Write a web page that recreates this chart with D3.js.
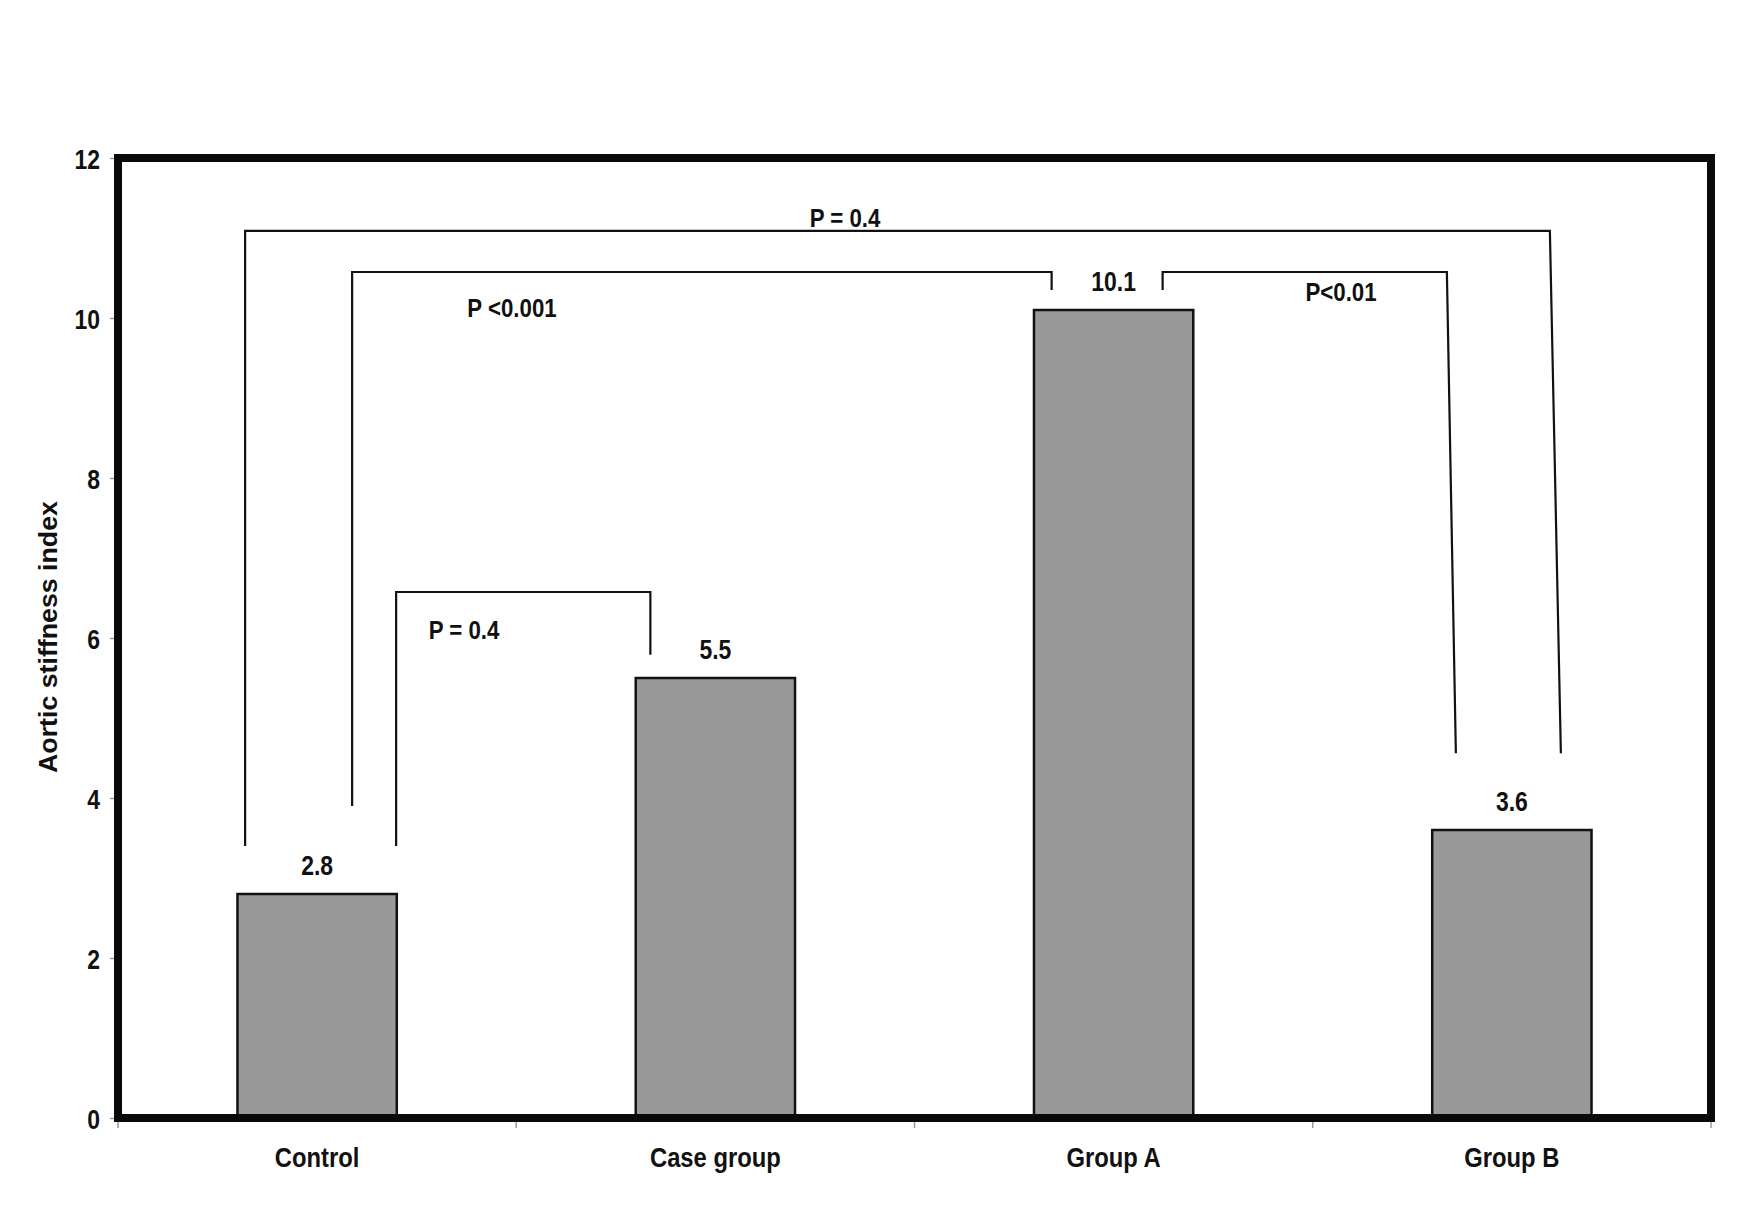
<!DOCTYPE html>
<html>
<head>
    <meta charset="utf-8">
    <title>Aortic stiffness index</title>
    <script type="text/javascript" src="https://d3js.org/d3.v7.min.js"></script>
    <style>
      body { margin: 0; background: #fff; }
      text { font-family: "Liberation Sans", Arial, Helvetica, sans-serif; font-weight: bold; fill: #111; }
    </style>
</head>
<body>
<script type="text/javascript">

        var width = 1739
        var height = 1213

        // chart data
        var categories = ["Control", "Case group", "Group A", "Group B"]
        var values = [2.8, 5.5, 10.1, 3.6]
        var valueLabels = ["2.8", "5.5", "10.1", "3.6"]
        var yTicks = [0, 2, 4, 6, 8, 10, 12]
        var yTitle = "Aortic stiffness index"

        // comparison brackets: groups, p label, level of the top bar and of both legs (axis units)
        var compFrom = ["Control", "Control", "Group A", "Control"]
        var compTo = ["Group B", "Group A", "Group B", "Case group"]
        var compLabel = ["P = 0.4", "P <0.001", "P<0.01", "P = 0.4"]
        var compTop = [11.09, 10.575, 10.575, 6.575]
        var compFromEnd = [3.4, 3.9, 10.35, 3.4]
        var compToEnd = [4.56, 10.35, 4.56, 5.79]

        var plotL = 118, plotR = 1711, plotT = 158, plotB = 1118
        var squash = 0.85

        var svg = d3.select("body").append("svg").attr("width", width).attr("height", height)

        var y = d3.scaleLinear().domain([0, 12]).range([plotB, plotT])
        var x = d3.scaleBand().domain(categories).range([plotL, plotR]).paddingInner(0.6).paddingOuter(0.3)
        var xb = d3.scaleBand().domain(categories).range([plotL, plotR])

        // y axis
        var yAxis = svg.append("g")
            .attr("transform", "translate(" + plotL + ",0)")
            .call(d3.axisLeft(y).tickValues(yTicks).tickSize(8).tickFormat(d3.format("d")))
        yAxis.select(".domain").remove()
        yAxis.selectAll("line").attr("stroke", "#999").attr("stroke-width", 1.5)
        yAxis.selectAll("text")
            .attr("x", 0)
            .attr("dy", "0.36em")
            .attr("transform", "translate(-18,0) scale(0.82,1)")
            .style("font-size", "28px")
            .attr("font-family", null)
            .attr("fill", "#111")

        // category boundary ticks
        var bounds = categories.map(function(c) { return xb(c) }).concat([plotR])
        svg.selectAll(".xtick")
            .data(bounds)
            .enter()
            .append("line")
            .attr("class", "xtick")
            .attr("x1", function(d) { return d }).attr("x2", function(d) { return d })
            .attr("y1", plotB).attr("y2", plotB + 10)
            .attr("stroke", "#999").attr("stroke-width", 1.5)

        // bars
        svg.selectAll(".bar")
            .data(values)
            .enter()
            .append("rect")
            .attr("class", "bar")
            .attr("x", function(d, i) { return x(categories[i]) })
            .attr("width", x.bandwidth())
            .attr("y", function(d) { return y(d) })
            .attr("height", function(d) { return y(0) - y(d) })
            .attr("fill", "#999999")
            .attr("stroke", "#111")
            .attr("stroke-width", 2.5)

        // value labels
        svg.selectAll(".val")
            .data(values)
            .enter()
            .append("text")
            .attr("class", "val")
            .attr("text-anchor", "middle")
            .style("font-size", "27px")
            .attr("transform", function(d, i) {
                return "translate(" + (x(categories[i]) + x.bandwidth() / 2) + "," + (y(d) - 19) + ") scale(" + squash + ",1)"
            })
            .text(function(d, i) { return valueLabels[i] })

        // brackets; leg offsets from bar centres in px
        var legFrom = [[-72, -72], [35, 35], [49, 49], [79, 79]]
        var legTo = [[38, 49], [-62, -62], [-65, -56], [-65, -65]]
        var labelPos = [[845, 227], [512, 317], [1341, 301], [464, 639]]
        function cx(c) { return x(c) + x.bandwidth() / 2 }

        compFrom.forEach(function(f, i) {
            var t = compTo[i]
            var pts = [
                [cx(f) + legFrom[i][1], y(compFromEnd[i])],
                [cx(f) + legFrom[i][0], y(compTop[i])],
                [cx(t) + legTo[i][0], y(compTop[i])],
                [cx(t) + legTo[i][1], y(compToEnd[i])]
            ]
            svg.append("path")
                .attr("d", d3.line()(pts))
                .attr("fill", "none")
                .attr("stroke", "#111")
                .attr("stroke-width", 2.2)
            svg.append("text")
                .attr("text-anchor", "middle")
                .style("font-size", "25px")
                .attr("transform", "translate(" + labelPos[i][0] + "," + labelPos[i][1] + ") scale(0.89,1)")
                .text(compLabel[i])
        })

        // plot frame
        svg.append("rect")
            .attr("x", plotL).attr("y", plotT)
            .attr("width", plotR - plotL).attr("height", plotB - plotT)
            .attr("fill", "none")
            .attr("stroke", "#0a0a0a")
            .attr("stroke-width", 8)

        // category labels
        svg.selectAll(".cat")
            .data(categories)
            .enter()
            .append("text")
            .attr("class", "cat")
            .attr("text-anchor", "middle")
            .style("font-size", "28px")
            .attr("transform", function(d) {
                return "translate(" + cx(d) + ",1167) scale(" + squash + ",1)"
            })
            .text(function(d) { return d })

        // y title
        svg.append("text")
            .attr("text-anchor", "middle")
            .style("font-size", "25px")
            .attr("transform", "translate(57,637) rotate(-90) scale(1.07,1)")
            .text(yTitle)
</script>
</body>
</html>
